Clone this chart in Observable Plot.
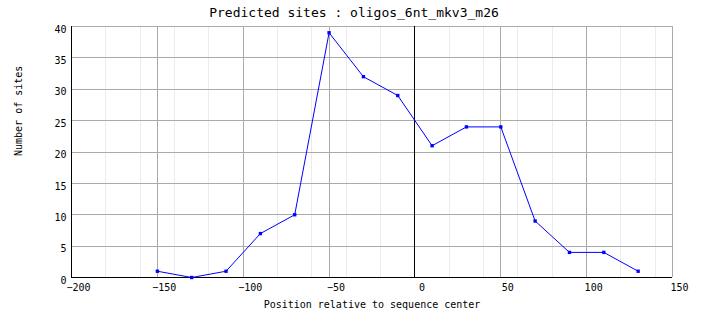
<!DOCTYPE html>
<html>
<head>
<meta charset="utf-8">
<script src="https://cdn.jsdelivr.net/npm/d3@7"></script>
<script src="https://cdn.jsdelivr.net/npm/@observablehq/plot@0.6"></script>
<style>
  html, body { margin: 0; padding: 0; background: #fff; }
  svg { display: block; }
</style>
</head>
<body>
<div id="chart"></div>
<script>
const positions = [-150, -130, -110, -90, -70, -50, -30, -10, 10, 30, 50, 70, 90, 110, 130];
const sites     = [1, 0, 1, 7, 10, 39, 32, 29, 21, 24, 24, 9, 4, 4, 1];
const xTicks = [-200, -150, -100, -50, 0, 50, 100, 150];
const xMinor = [-180, -160, -140, -120, -80, -60, -40, -20, 20, 40, 60, 80, 120, 140];
const yTicks = [0, 5, 10, 15, 20, 25, 30, 35, 40];
const titleText = "Predicted sites : oligos_6nt_mkv3_m26";
const xLabel = "Position relative to sequence center";
const yLabel = "Number of sites";

const data = positions.map((x, i) => ({x, y: sites[i]}));
const mono = "'DejaVu Sans Mono', 'Liberation Mono', monospace";
const crisp = {shapeRendering: "crispEdges"};

const chart = Plot.plot({
  width: 704,
  height: 328,
  marginLeft: 71,
  marginRight: 32,
  marginTop: 26,
  marginBottom: 51,
  style: {fontFamily: mono, fontSize: "10px", background: "#fff", color: "#000"},
  x: {domain: [-200, 150]},
  y: {domain: [0, 40]},
  marks: [
    Plot.ruleX(xMinor, {stroke: "#ececec", ...crisp}),
    Plot.ruleX(xTicks.filter(d => d !== 0), {stroke: "#aaaaaa", ...crisp}),
    Plot.ruleY(yTicks, {stroke: "#aaaaaa", ...crisp}),
    Plot.ruleX([0], {stroke: "#000", ...crisp}),
    Plot.ruleX([-200], {stroke: "#000", ...crisp}),
    Plot.ruleY([0], {stroke: "#000", ...crisp}),
    Plot.axisX(xTicks, {tickSize: 0, tickPadding: 6, dx: 7, fontSize: 10, fontFamily: mono, label: null}),
    Plot.axisY(yTicks, {tickSize: 0, tickPadding: 5, dy: 3, fontSize: 10, fontFamily: mono, label: null}),
    Plot.line(data, {x: "x", y: "y", stroke: "#0000ff", strokeWidth: 1}),
    Plot.dot(data, {x: "x", y: "y", symbol: "square", r: 1.9, fill: "#0000ff", stroke: "none"}),
    Plot.text([titleText], {frameAnchor: "top", dy: -10, dx: -18, fontSize: 13, fontFamily: mono, fill: "#000", lineAnchor: "bottom"}),
    Plot.text([xLabel], {frameAnchor: "bottom", dy: 30, fontSize: 10, fontFamily: mono, fill: "#000", lineAnchor: "bottom"}),
    Plot.text([yLabel], {frameAnchor: "left", dx: -53, dy: 4, rotate: -90, fontSize: 10, fontFamily: mono, fill: "#000"})
  ]
});
document.getElementById("chart").appendChild(chart);
</script>
</body>
</html>
